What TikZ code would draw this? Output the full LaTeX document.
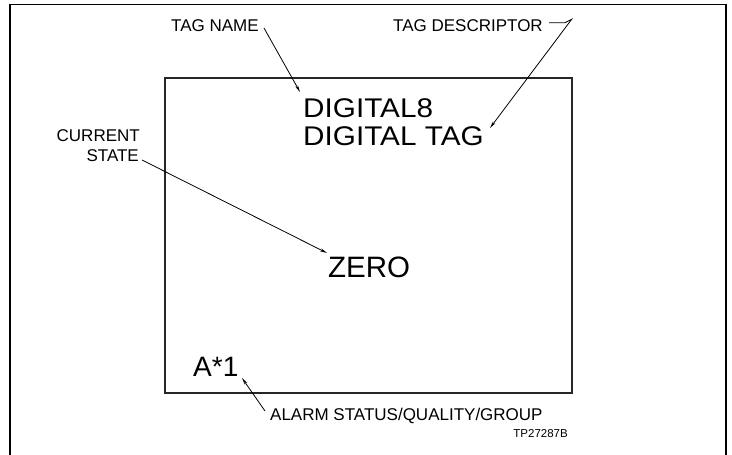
\documentclass[tikz,border=0pt]{standalone}
\usepackage{fontspec}
\setmainfont{Liberation Sans}
\usetikzlibrary{arrows.meta}
\tikzset{
  lbl/.style={inner sep=0pt, font=\fontsize{17}{20}\selectfont},
  big/.style={inner sep=0pt, font=\fontsize{27}{30}\selectfont, xscale=1.1},
  lead/.style={line width=0.8pt, -{Stealth[length=7pt,width=3pt]}},
  frame/.style={line width=1.4pt},
  screen/.style={line width=1.2pt, draw=black!85}
}
\begin{document}
\begin{tikzpicture}[x=1pt,y=-1pt]
\useasboundingbox (0,0) rectangle (732,455);
\draw[frame] (10,455) -- (10,4.5) -- (726,4.5) -- (726,455);
\draw[screen] (165,78) rectangle (572,393);
% labels
\node[lbl, anchor=base west] (tagname) at (171,31) {TAG NAME};
\node[lbl, anchor=base west] (tagdesc) at (393,31) {TAG DESCRIPTOR};
\node[lbl, anchor=base east] (cur) at (140,141) {CURRENT};
\node[lbl, anchor=base east] (st) at (139,161) {STATE};
\node[lbl, anchor=base west] (alarm) at (270,420) {ALARM STATUS/QUALITY/GROUP};
\node[inner sep=0pt, font=\fontsize{11.5}{13}\selectfont, anchor=base east] (tp) at (568,437) {TP27287B};
% screen contents
\node[big, anchor=base west] (dig8) at (303,117) {DIGITAL8};
\node[big, anchor=base west] (digtag) at (303,145) {DIGITAL TAG};
\node[inner sep=0pt, font=\fontsize{29.5}{33}\selectfont, anchor=base west] (zero) at (328,277) {ZERO};
\node[inner sep=0pt, font=\fontsize{28}{32}\selectfont, anchor=base west] (a1) at (193,376) {A*1};
% leader end points
\coordinate (tnS) at (264,28);
\coordinate (tnE) at (300,92);
\coordinate (tdS) at (549,22.7);
\coordinate (tdK) at (565,22.7);
\coordinate (tdC) at (571.7,19.3);
\coordinate (tdE) at (490,128);
\coordinate (csS) at (142,160);
\coordinate (csE) at (327,253);
\coordinate (alS) at (265,411);
\coordinate (alE) at (242,378);
\draw[lead] (tnS) -- (tnE);
\draw[lead] (tdS) -- (tdK) -- (tdC) -- (tdE);
\draw[lead] (csS) -- (csE);
\draw[lead] (alS) -- (alE);
\end{tikzpicture}
\end{document}
